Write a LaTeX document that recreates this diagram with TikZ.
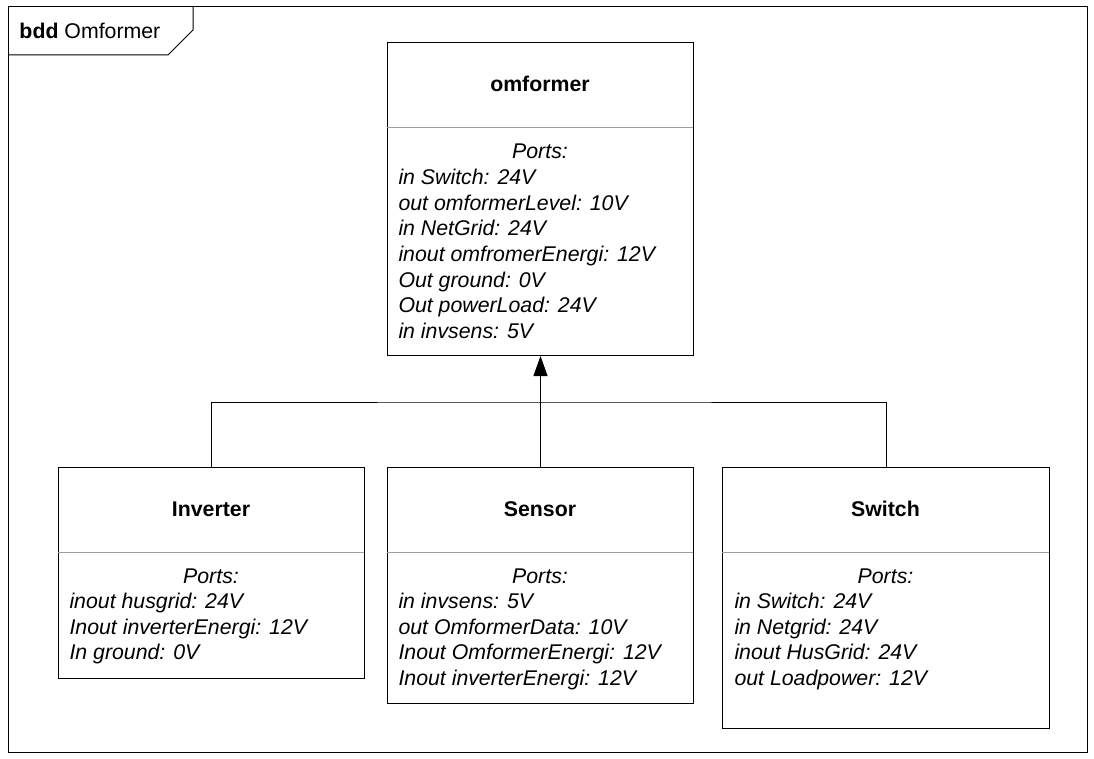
\documentclass[tikz,border=0pt]{standalone}
\usepackage{fontspec}
\setmainfont{Liberation Sans}
\usetikzlibrary{arrows.meta}
\begin{document}
\begin{tikzpicture}[x=1pt,y=-1pt,line width=1pt,
  every node/.style={inner sep=0pt,font=\fontsize{21.3}{25}\selectfont},
  block/.style={draw,rectangle,anchor=north west,minimum height=#1},
  divider/.style={draw=black!38,line width=1pt},
  ttl/.style={anchor=base,font=\fontsize{21.3}{25}\selectfont\bfseries},
  hdr/.style={anchor=base,font=\fontsize{21.3}{25}\selectfont\itshape},
  prt/.style={anchor=base west,font=\fontsize{21.3}{25}\selectfont\itshape}]
\useasboundingbox (0,0) rectangle (1094,759);
% frame
\draw (8,7) rectangle (1087,752);
\draw (8,55) -- (168,55) -- (193,30) -- (193,7);
\node[anchor=base west] (frame) at (19,38.5) {\textbf{bdd} Omformer};
% omformer
\node[block=313pt,minimum width=306pt] (omf) at (387,42) {};
\draw[divider] (387,128) -- (693,128);
\node[ttl] (omft) at (540,91.5) {omformer};
\node[hdr] (omfh) at (540,158.5) {Ports:};
\foreach \t [count=\i from 0] in {in Switch: 24V,out omformerLevel: 10V,in NetGrid: 24V,inout omfromerEnergi: 12V,Out ground: 0V,Out powerLoad: 24V,in invsens: 5V}
  \node[prt] (omfp\i) at (398,184.5+25.67*\i) {\t};
% inverter
\node[block=211pt,minimum width=306pt] (inv) at (58,467) {};
\draw[divider] (58,552) -- (364,552);
\node[ttl] (invt) at (211,516.5) {Inverter};
\node[hdr] (invh) at (211,583.5) {Ports:};
\foreach \t [count=\i from 0] in {inout husgrid: 24V,Inout inverterEnergi: 12V,In ground: 0V}
  \node[prt] (invp\i) at (69,608.5+25.67*\i) {\t};
% sensor
\node[block=236pt,minimum width=306pt] (sen) at (387,467) {};
\draw[divider] (387,552) -- (693,552);
\node[ttl] (sent) at (540,516.5) {Sensor};
\node[hdr] (senh) at (540,583.5) {Ports:};
\foreach \t [count=\i from 0] in {in invsens: 5V,out OmformerData: 10V,Inout OmformerEnergi: 12V,Inout inverterEnergi: 12V}
  \node[prt] (senp\i) at (398,608.5+25.67*\i) {\t};
% switch
\node[block=261pt,minimum width=327pt] (sw) at (722,467) {};
\draw[divider] (722,552) -- (1049,552);
\node[ttl] (swt) at (885.5,516.5) {Switch};
\node[hdr] (swh) at (885.5,583.5) {Ports:};
\foreach \t [count=\i from 0] in {in Switch: 24V,in Netgrid: 24V,inout HusGrid: 24V,out Loadpower: 12V}
  \node[prt] (swp\i) at (734,608.5+25.67*\i) {\t};
% generalization
\coordinate (j) at (540,402);
\draw (inv.north) |- (j) -| (sw.north);
\draw[-{Triangle[length=20pt,width=14pt]}] (sen.north) -- (omf.south);
\end{tikzpicture}
\end{document}
